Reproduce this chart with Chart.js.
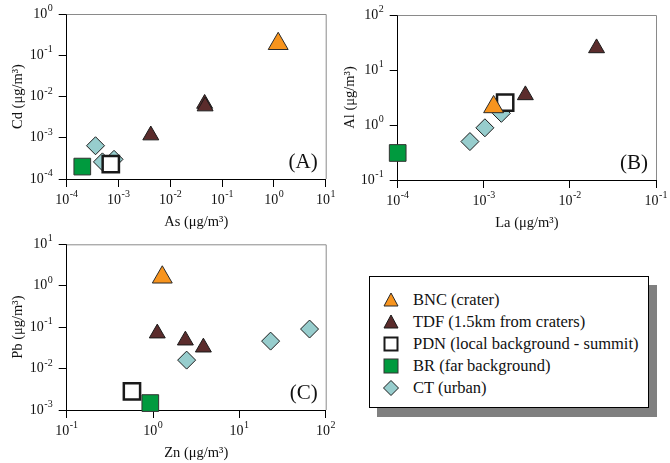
<!DOCTYPE html>
<html>
<head>
<meta charset="utf-8">
<script src="https://cdn.jsdelivr.net/npm/chart.js@4.4.0/dist/chart.umd.min.js"></script>
<style>
  body{margin:0;background:#fff;width:670px;height:463px;position:relative;overflow:hidden;font-family:"Liberation Serif","DejaVu Serif",serif;}
  canvas{position:absolute;}
  #legend{position:absolute;left:369px;top:276px;width:278px;height:130px;border:1px solid #000;background:#fff;box-shadow:8px 9px 0 #808080;}
  .row{position:absolute;left:0;height:22px;line-height:22px;font-size:16.5px;color:#111;white-space:nowrap;}
  .row svg{position:absolute;left:13px;top:3px;}
  .row span{position:absolute;left:43px;}
</style>
</head>
<body>
<canvas id="cA" width="340" height="240" style="left:0;top:0"></canvas>
<canvas id="cB" width="340" height="240" style="left:330px;top:0"></canvas>
<canvas id="cC" width="340" height="233" style="left:0;top:230px"></canvas>
<div id="legend"></div>
<script>
// ------ DATA (µg/m3) ------
const GROUPS = ['BNC','TDF','PDN','BR','CT'];
const LABELS = ['BNC (crater)','TDF (1.5km from craters)','PDN (local background - summit)','BR (far background)','CT (urban)'];

// panel A: As (x) vs Cd (y)
const A_BNC = [[1.21, 0.19]];
const A_TDF = [[0.0042, 0.00115], [0.046, 0.0067], [0.047, 0.0058]];
const A_PDN = [[0.00071, 0.00023]];
const A_BR  = [[0.0002, 0.0002]];
const A_CT  = [[0.00036, 0.00064], [0.00082, 0.0003], [0.00049, 0.00026]];
const A_xTicks = [1e-4, 1e-3, 1e-2, 1e-1, 1e0, 1e1];
const A_yTicks = [1e-4, 1e-3, 1e-2, 1e-1, 1e0];

// panel B: La (x) vs Al (y)
const B_BNC = [[0.0013, 2.13]];
const B_TDF = [[0.00304, 3.5], [0.0204, 25]];
const B_PDN = [[0.00177, 2.54]];
const B_BR  = [[0.0001, 0.31]];
const B_CT  = [[0.00069, 0.5], [0.00103, 0.89], [0.0016, 1.63]];
const B_xTicks = [1e-4, 1e-3, 1e-2, 1e-1];
const B_yTicks = [1e-1, 1e0, 1e1, 1e2];

// panel C: Zn (x) vs Pb (y)
const C_BNC = [[1.28, 1.6]];
const C_TDF = [[1.12, 0.071], [2.37, 0.048], [3.83, 0.0325]];
const C_PDN = [[0.57, 0.0028]];
const C_BR  = [[0.93, 0.00147]];
const C_CT  = [[2.45, 0.016], [23, 0.046], [65, 0.09]];
const C_xTicks = [1e-1, 1e0, 1e1, 1e2];
const C_yTicks = [1e-3, 1e-2, 1e-1, 1e0, 1e1];

// ------ STYLE ------
const FONT = '"Liberation Serif", "DejaVu Serif", serif';
const STYLE = {
  BNC:{pointStyle:'triangle', pointRadius:11.5, backgroundColor:'#f7941e', borderColor:'#2a2a2a', borderWidth:1, order:1},
  TDF:{pointStyle:'triangle', pointRadius:9.2, backgroundColor:'#5b2c2c', borderColor:'#1a1a1a', borderWidth:1, order:2},
  PDN:{pointStyle:'rect', pointRadius:11.5, backgroundColor:'#ffffff', borderColor:'#1a1a1a', borderWidth:2.5, order:3},
  BR: {pointStyle:'rect', pointRadius:11.8, backgroundColor:'#009a3e', borderColor:'#333', borderWidth:1, order:4},
  CT: {pointStyle:'rectRot', pointRadius:9, backgroundColor:'#97cdcd', borderColor:'#1a1a1a', borderWidth:1, order:5}
};

function drawPow(ctx, v, x, y, align){
  const e = String(Math.round(Math.log10(v)));
  ctx.font = '14px ' + FONT;
  const wb = ctx.measureText('10').width;
  ctx.font = '10px ' + FONT;
  const we = ctx.measureText(e).width;
  const w = wb + we + 0.5;
  const x0 = align === 'right' ? x - w : x - w / 2;
  ctx.fillStyle = '#111';
  ctx.textAlign = 'left';
  ctx.textBaseline = 'middle';
  ctx.font = '14px ' + FONT;
  ctx.fillText('10', x0, y);
  ctx.font = '10px ' + FONT;
  ctx.fillText(e, x0 + wb + 0.5, y - 5.5);
}

const framePlugin = {
  id:'frame',
  beforeDatasetsDraw(chart){
    const {ctx, chartArea:a} = chart;
    ctx.save();
    ctx.strokeStyle = '#8a8a8a'; ctx.lineWidth = 1;
    ctx.beginPath();
    ctx.moveTo(a.left, a.top + 0.5); ctx.lineTo(a.right + 0.5, a.top + 0.5);
    ctx.lineTo(a.right + 0.5, a.bottom);
    ctx.stroke();
    ctx.restore();
  },
  afterDraw(chart){
    const {ctx, chartArea:a, scales} = chart;
    const c = chart.options.plugins.frame;
    ctx.save();
    c.xTicks.forEach(v => drawPow(ctx, v, scales.x.getPixelForValue(v), a.bottom + 21, 'center'));
    c.yTicks.forEach(v => drawPow(ctx, v, a.left - 14, scales.y.getPixelForValue(v), 'right'));
    ctx.fillStyle = '#111';
    ctx.font = '14.5px ' + FONT;
    ctx.textAlign = 'center'; ctx.textBaseline = 'middle';
    ctx.fillText(c.xTitle, (a.left + a.right) / 2, a.bottom + 43);
    ctx.save();
    ctx.translate(c.yTitleX, (a.top + a.bottom) / 2);
    ctx.rotate(-Math.PI / 2);
    ctx.fillText(c.yTitle, 0, 0);
    ctx.restore();
    ctx.font = '21px ' + FONT;
    ctx.textAlign = 'right';
    ctx.fillText(c.tag, a.right - 8, a.bottom - 17);
    ctx.restore();
  }
};

function makeChart(id, series, cfg){
  const datasets = GROUPS.map((g, i) => Object.assign({
    label: LABELS[i],
    data: series[i].map(p => ({x:p[0], y:p[1]})),
    clip: false
  }, STYLE[g]));
  const axis = (ticks, extra) => Object.assign({
    type:'logarithmic',
    min: ticks[0], max: ticks[ticks.length - 1],
    afterBuildTicks: s => { s.ticks = ticks.map(v => ({value:v})); },
    ticks:{display:false},
    grid:{drawOnChartArea:false, drawTicks:true, tickLength:8, tickColor:'#000', color:'#000'},
    border:{color:'#000', width:1}
  }, extra);
  return new Chart(document.getElementById(id), {
    type:'scatter',
    data:{datasets},
    options:{
      responsive:false, animation:false, events:[],
      layout:{padding:{top:cfg.top, right:cfg.right, left:0, bottom:0}},
      plugins:{legend:{display:false}, tooltip:{enabled:false}, frame:cfg},
      scales:{
        x: axis(cfg.xTicks, {position:'bottom', afterFit: s => { s.height = cfg.xh; }}),
        y: axis(cfg.yTicks, {position:'left', afterFit: s => { s.width = cfg.yw; }})
      }
    },
    plugins:[framePlugin]
  });
}

makeChart('cA', [A_BNC, A_TDF, A_PDN, A_BR, A_CT],
  {top:14, right:14.3, xh:61, yw:66.7, xTicks:A_xTicks, yTicks:A_yTicks,
   xTitle:'As (μg/m³)', yTitle:'Cd (μg/m³)', yTitleX:18, tag:'(A)'});
makeChart('cB', [B_BNC, B_TDF, B_PDN, B_BR, B_CT],
  {top:15, right:13.3, xh:60, yw:67.7, xTicks:B_xTicks, yTicks:B_yTicks,
   xTitle:'La (μg/m³)', yTitle:'Al (μg/m³)', yTitleX:20, tag:'(B)'});
makeChart('cC', [C_BNC, C_TDF, C_PDN, C_BR, C_CT],
  {top:14.3, right:14.3, xh:53, yw:66.7, xTicks:C_xTicks, yTicks:C_yTicks,
   xTitle:'Zn (μg/m³)', yTitle:'Pb (μg/m³)', yTitleX:18, tag:'(C)'});

// legend
const SHAPES = {
  BNC:'<polygon points="8,1 15,14 1,14" fill="#f7941e" stroke="#2a2a2a" stroke-width="1"/>',
  TDF:'<polygon points="8,1 15,14 1,14" fill="#5b2c2c" stroke="#1a1a1a" stroke-width="1"/>',
  PDN:'<rect x="1.5" y="1.5" width="13" height="13" fill="#fff" stroke="#1a1a1a" stroke-width="2"/>',
  BR:'<rect x="1" y="1" width="14" height="14" fill="#009a3e" stroke="#333" stroke-width="1"/>',
  CT:'<polygon points="8,0.5 15.5,8 8,15.5 0.5,8" fill="#97cdcd" stroke="#1a1a1a" stroke-width="1"/>'
};
const leg = document.getElementById('legend');
GROUPS.forEach((g, i) => {
  const r = document.createElement('div');
  r.className = 'row';
  r.style.top = (12 + i * 22) + 'px';
  r.innerHTML = '<svg width="16" height="16">' + SHAPES[g] + '</svg><span>' + LABELS[i] + '</span>';
  leg.appendChild(r);
});
</script>
</body>
</html>
